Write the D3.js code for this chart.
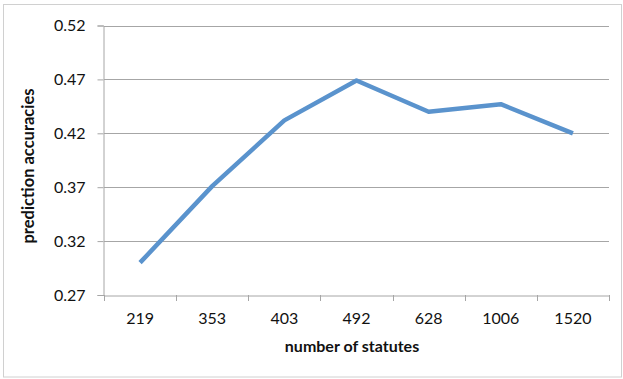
<!DOCTYPE html>
<html><head><meta charset="utf-8">
<script src="https://cdn.jsdelivr.net/npm/d3@7"></script>
<style>body{margin:0;background:#fff}svg{display:block}</style>
</head><body>
<script>
const categories = ["219","353","403","492","628","1006","1520"];
const accuracies = [0.300, 0.371, 0.432, 0.469, 0.440, 0.447, 0.420];
const yTicks = [0.27, 0.32, 0.37, 0.42, 0.47, 0.52];
const xTitle = "number of statutes";
const yTitle = "prediction accuracies";

const W = 623, H = 379;
const m = {left:104, right:14, top:25.5, bottom:84};
const font = "Lato, 'Open Sans', sans-serif";

const svg = d3.select("body").append("svg").attr("width", W).attr("height", H);
svg.append("rect").attr("x",3.5).attr("y",4.5).attr("width",618).attr("height",372.5)
  .attr("fill","#fff").attr("stroke","#d0d0d0");

const x = d3.scaleBand().domain(categories).range([m.left, W - m.right]);
const y = d3.scaleLinear().domain([0.27, 0.52]).range([H - m.bottom, m.top]);

// gridlines
svg.append("g").selectAll("line").data(yTicks.slice(1)).join("line")
  .attr("x1", m.left).attr("x2", W - m.right)
  .attr("y1", d => Math.round(y(d)) + 0.5).attr("y2", d => Math.round(y(d)) + 0.5)
  .attr("stroke", "#a6a6a6").attr("stroke-width", 1);

// y axis
const yAxis = svg.append("g").attr("transform", `translate(${m.left - 0.5},0)`)
  .call(d3.axisLeft(y).tickValues(yTicks).tickFormat(d3.format(".2f")).tickSize(6).tickPadding(12));
// x axis
const xAxis = svg.append("g").attr("transform", `translate(0,${Math.round(H - m.bottom) + 0.5})`)
  .call(d3.axisBottom(x).tickSize(0).tickPadding(17));
[yAxis, xAxis].forEach(a => {
  a.select(".domain").attr("stroke", "#a6a6a6");
  a.selectAll(".tick line").attr("stroke", "#a6a6a6");
  a.selectAll("text").attr("font-family", font).attr("font-size", 16).attr("fill", "#111");
});
// x tick marks at band boundaries
const bounds = categories.map(c => x(c)).concat([x(categories[categories.length-1]) + x.bandwidth()]);
svg.append("g").selectAll("line").data(bounds).join("line")
  .attr("x1", d => Math.round(d) + 0.5).attr("x2", d => Math.round(d) + 0.5)
  .attr("y1", Math.round(H - m.bottom)).attr("y2", Math.round(H - m.bottom) + 6)
  .attr("stroke", "#a6a6a6");

// line
const line = d3.line().x((d, i) => x(categories[i]) + x.bandwidth() / 2).y(d => y(d));
svg.append("path").datum(accuracies).attr("d", line)
  .attr("fill", "none").attr("stroke", "#5a93cd").attr("stroke-width", 4.5)
  .attr("stroke-linejoin", "round");

// titles
svg.append("text").attr("x", 352).attr("y", 352).attr("text-anchor", "middle")
  .attr("font-family", font).attr("font-weight", "bold").attr("font-size", 16).attr("fill", "#111")
  .text(xTitle);
svg.append("text").attr("transform", "translate(34,166) rotate(-90)").attr("text-anchor", "middle")
  .attr("font-family", font).attr("font-weight", "bold").attr("font-size", 16.5).attr("fill", "#111")
  .text(yTitle);
</script>
</body></html>
